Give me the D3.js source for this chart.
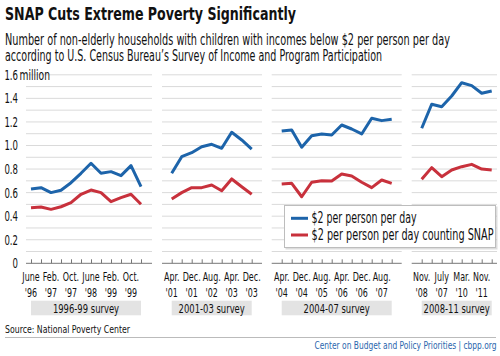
<!DOCTYPE html>
<html>
<head>
<meta charset="utf-8">
<script src="https://cdn.jsdelivr.net/npm/d3@7"></script>
<style>
  html, body { margin: 0; padding: 0; background: #fff; }
  svg { display: block; }
  text { font-family: "DejaVu Sans Condensed", "DejaVu Sans", sans-serif; }
</style>
</head>
<body>
<svg id="chart" width="500" height="356"></svg>
<script>
// ---------------- DATA ----------------
const surveys = ["1996-99 survey", "2001-03 survey", "2004-07 survey", "2008-11 survey"];

const waves1 = ["June '96","Oct. '96","Feb. '97","June '97","Oct. '97","Feb. '98","June '98","Oct. '98","Feb. '99","June '99","Oct. '99","Feb. '00"];
const waves2 = ["Apr. '01","Aug. '01","Dec. '01","Apr. '02","Aug. '02","Dec. '02","Apr. '03","Aug. '03","Dec. '03"];
const waves3 = ["Apr. '04","Aug. '04","Dec. '04","Apr. '05","Aug. '05","Dec. '05","Apr. '06","Aug. '06","Dec. '06","Apr. '07","Aug. '07","Dec. '07"];
const waves4 = ["Nov. '08","Mar. '09","July '07","Nov. '09","Mar. '10","July '10","Nov. '11","Mar. '11"];

const poverty1 = [0.631,0.642,0.600,0.620,0.684,0.764,0.849,0.764,0.778,0.744,0.829,0.650];
const poverty2 = [0.764,0.905,0.939,0.990,1.010,0.976,1.112,1.047,0.970];
const poverty3 = [1.123,1.132,0.985,1.083,1.098,1.089,1.174,1.140,1.098,1.231,1.211,1.222];
const poverty4 = [1.146,1.350,1.329,1.420,1.533,1.508,1.443,1.463];

const snap1 = [0.472,0.478,0.458,0.480,0.515,0.586,0.622,0.600,0.523,0.557,0.586,0.501];
const snap2 = [0.546,0.600,0.642,0.642,0.665,0.616,0.716,0.650,0.586];
const snap3 = [0.673,0.679,0.565,0.688,0.701,0.699,0.758,0.741,0.688,0.642,0.707,0.679];
const snap4 = [0.713,0.812,0.735,0.792,0.820,0.840,0.800,0.792];

const yTicks = [0, 0.2, 0.4, 0.6, 0.8, 1.0, 1.2, 1.4, 1.6];
const seriesNames = ["$2 per person per day", "$2 per person per day counting SNAP"];

// ---------------- HELPERS ----------------
// condense text horizontally (the reference uses a condensed face)
function fitWidth(sel, w) {
  sel.attr("textLength", w).attr("lengthAdjust", "spacingAndGlyphs");
}
function squeeze(sel, k) {
  sel.each(function () {
    const n = this.getComputedTextLength();
    d3.select(this).attr("textLength", n * k).attr("lengthAdjust", "spacingAndGlyphs");
  });
}

// ---------------- LAYOUT ----------------
const BLUE = "#1d64aa", RED = "#c8313c";
const svg = d3.select("#chart");

const y = d3.scaleLinear().domain([0, 1.6]).range([263.3, 74.8]);

// panel extents [gridStart, firstPoint, lastPoint, gridEnd]
const panels = [
  { waves: waves1, blue: poverty1, red: snap1, ext: [26, 31, 141, 152] },
  { waves: waves2, blue: poverty2, red: snap2, ext: [162, 171.7, 251.7, 262] },
  { waves: waves3, blue: poverty3, red: snap3, ext: [271.7, 281.7, 391.7, 401.7] },
  { waves: waves4, blue: poverty4, red: snap4, ext: [411.7, 421.7, 491.7, 497] }
];

// Title
svg.append("text").attr("x", 5).attr("y", 20)
  .attr("font-size", 18).attr("font-weight", "bold").attr("fill", "#111")
  .text("SNAP Cuts Extreme Poverty Significantly").call(fitWidth, 291);
svg.append("text").attr("x", 5).attr("y", 45)
  .attr("font-size", 15).attr("fill", "#111")
  .text("Number of non-elderly households with children with incomes below $2 per person per day")
  .call(fitWidth, 445);
svg.append("text").attr("x", 5).attr("y", 61)
  .attr("font-size", 15).attr("fill", "#111")
  .text("according to U.S. Census Bureau\u2019s Survey of Income and Program Participation")
  .call(fitWidth, 377);

// Gridlines per panel
const minorTicks = d3.range(1, 17).map(d => d / 10);
panels.forEach(p => {
  svg.append("g").selectAll("line").data(minorTicks).join("line")
    .attr("x1", p.ext[0]).attr("x2", p.ext[3])
    .attr("y1", d => y(d)).attr("y2", d => y(d))
    .attr("stroke", "#dadada").attr("stroke-width", 1);
});

// Y axis labels
svg.append("g").selectAll("text").data(yTicks).join("text")
  .attr("x", 18).attr("y", d => y(d) + 5)
  .attr("text-anchor", "end").attr("font-size", 14).attr("fill", "#111")
  .text(d => d === 0 ? "0" : d3.format(".1f")(d))
  .call(squeeze, 0.68);
svg.append("text").attr("x", 19.5).attr("y", y(1.6) + 5)
  .attr("font-size", 14).attr("fill", "#111").text("million").call(fitWidth, 30.5);

// Panels
panels.forEach((p, i) => {
  const x = d3.scalePoint().domain(d3.range(p.waves.length)).range([p.ext[1], p.ext[2]]);
  const g = svg.append("g");

  // axis baseline with ticks pointing up
  const axis = d3.axisTop(x).tickSize(4).tickFormat("");
  const ag = g.append("g").attr("transform", `translate(0,${y(0)})`).call(axis);
  ag.select(".domain").remove();
  ag.selectAll(".tick line").attr("stroke", "#777");
  g.append("line").attr("x1", p.ext[0]).attr("x2", p.ext[3])
    .attr("y1", y(0)).attr("y2", y(0)).attr("stroke", "#777").attr("stroke-width", 1);

  // tick labels (every other wave)
  const shown = p.waves.map((w, j) => ({ w, j })).filter(d => d.j % 2 === 0);
  g.selectAll("text.m").data(shown).join("text").attr("class", "m")
    .attr("x", d => x(d.j)).attr("y", 281)
    .attr("text-anchor", "middle").attr("font-size", 13).attr("fill", "#111")
    .text(d => d.w.split(" ")[0]).call(squeeze, 0.68);
  g.selectAll("text.yr").data(shown).join("text").attr("class", "yr")
    .attr("x", d => x(d.j)).attr("y", 297)
    .attr("text-anchor", "middle").attr("font-size", 13).attr("fill", "#111")
    .text(d => d.w.split(" ")[1]).call(squeeze, 0.68);

  // survey label box
  g.append("rect").attr("x", p.ext[1]).attr("y", 300.7)
    .attr("width", p.ext[2] - p.ext[1]).attr("height", 14.6).attr("fill", "#e3e3e3");
  g.append("text").attr("x", (p.ext[1] + p.ext[2]) / 2).attr("y", 312.5)
    .attr("text-anchor", "middle").attr("font-size", 13).attr("fill", "#111")
    .text(surveys[i]).call(squeeze, 0.72);

  // lines
  const line = d3.line().x((d, j) => x(j)).y(d => y(d));
  g.append("path").datum(p.red).attr("d", line)
    .attr("fill", "none").attr("stroke", RED).attr("stroke-width", 3).attr("stroke-linejoin", "round");
  g.append("path").datum(p.blue).attr("d", line)
    .attr("fill", "none").attr("stroke", BLUE).attr("stroke-width", 3).attr("stroke-linejoin", "round");
});

// Legend
const lg = svg.append("g");
lg.append("rect").attr("x", 285.5).attr("y", 206.5).attr("width", 212).attr("height", 43).attr("fill", "#bbb").attr("opacity", 0.5);
lg.append("rect").attr("x", 284.5).attr("y", 205.5).attr("width", 211).attr("height", 42)
  .attr("fill", "#fff").attr("stroke", "#bdbdbd");
const legendW = [105, 182];
[BLUE, RED].forEach((c, k) => {
  const yy = 218.3 + k * 16.7;
  lg.append("line").attr("x1", 291).attr("x2", 308).attr("y1", yy).attr("y2", yy)
    .attr("stroke", c).attr("stroke-width", 3);
  lg.append("text").attr("x", 311.5).attr("y", yy + 5).attr("font-size", 15).attr("fill", "#111")
    .text(seriesNames[k]).call(fitWidth, legendW[k]);
});

// Footer
svg.append("text").attr("x", 5).attr("y", 333).attr("font-size", 10).attr("fill", "#111")
  .text("Source: National Poverty Center").call(fitWidth, 125);
svg.append("line").attr("x1", 5).attr("x2", 496).attr("y1", 337.5).attr("y2", 337.5)
  .attr("stroke", "#bbb").attr("stroke-width", 1);
svg.append("text").attr("x", 496.5).attr("y", 349).attr("text-anchor", "end")
  .attr("font-size", 11).attr("fill", "#2a66ad")
  .text("Center on Budget and Policy Priorities | cbpp.org").call(fitWidth, 182);
</script>
</body>
</html>
